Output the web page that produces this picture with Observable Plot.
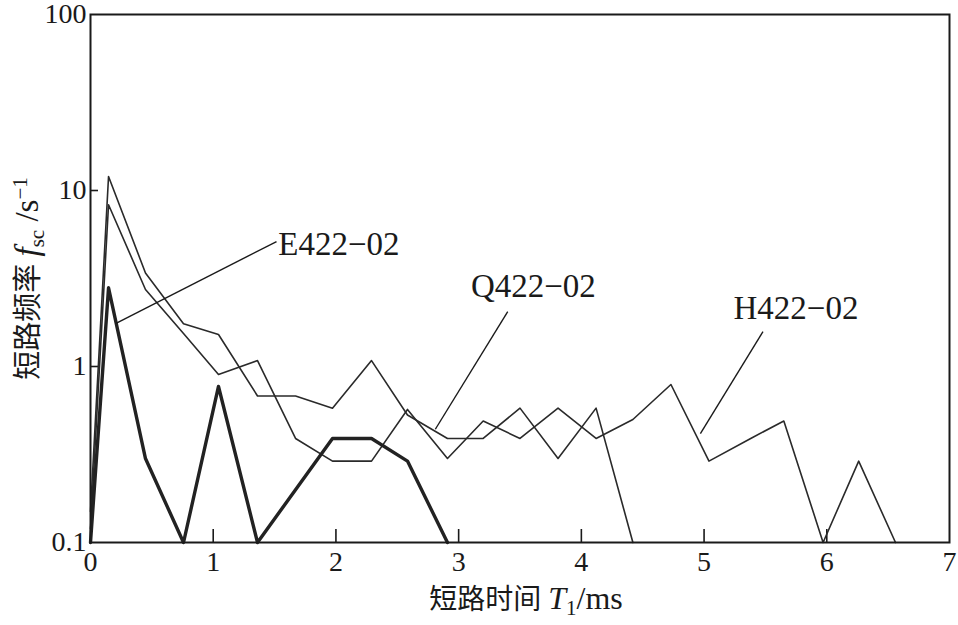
<!DOCTYPE html>
<html><head><meta charset="utf-8">
<script src="https://cdn.jsdelivr.net/npm/d3@7"></script>
<script src="https://cdn.jsdelivr.net/npm/@observablehq/plot@0.6"></script>
<style>body{margin:0;background:#fff} svg{display:block}</style>
</head><body><div id="chart"></div>
<script>
const seriesNames = ["E422−02", "Q422−02", "H422−02"];
const xE = [0, 0.147, 0.448, 0.758, 1.043, 1.361, 1.972, 2.29, 2.583, 2.909];
const yE = [0.1, 2.8, 0.30, 0.1, 0.77, 0.1, 0.39, 0.39, 0.29, 0.1];
const xQ = [0, 0.147, 0.448, 0.758, 1.043, 1.361, 1.671, 1.972, 2.29, 2.583, 2.909, 3.20, 3.50, 3.81, 4.12, 4.42];
const yQ = [0.15, 12.0, 3.4, 1.75, 1.52, 0.68, 0.68, 0.58, 1.08, 0.53, 0.39, 0.39, 0.58, 0.30, 0.58, 0.1];
const xH = [0, 0.147, 0.448, 0.758, 1.043, 1.361, 1.671, 1.972, 2.29, 2.583, 2.909, 3.20, 3.50, 3.81, 4.12, 4.42, 4.73, 5.04, 5.38, 5.65, 5.97, 6.26, 6.56];
const yH = [0.12, 8.3, 2.74, 1.54, 0.90, 1.08, 0.39, 0.29, 0.29, 0.57, 0.30, 0.49, 0.39, 0.58, 0.39, 0.50, 0.79, 0.29, 0.39, 0.49, 0.1, 0.29, 0.1];

// series label anchors and leader lines (data coordinates)
const labelX = [1.53, 3.10, 5.24];
const labelY = [4.93, 2.85, 2.14];
const leaderX1 = [0.204, 2.81, 4.97];
const leaderY1 = [1.75, 0.44, 0.416];
const leaderX2 = [1.516, 3.40, 5.48];
const leaderY2 = [5.13, 2.05, 1.58];

const xTickLabels = [0, 1, 2, 3, 4, 5, 6, 7];
const xInnerTicks = [1, 2, 3, 4, 5, 6];
const yTickLabels = [0.1, 1, 10, 100];
const yInnerTicks = [1, 10];

const toRows = (xs, ys, name) => xs.map((x, i) => ({x, y: ys[i], series: name}));
const rowsE = toRows(xE, yE, seriesNames[0]);
const rowsQ = toRows(xQ, yQ, seriesNames[1]);
const rowsH = toRows(xH, yH, seriesNames[2]);
const labels = seriesNames.map((s, i) => ({s, x: labelX[i], y: labelY[i]}));
const leaders = seriesNames.map((s, i) => ({x1: leaderX1[i], y1: leaderY1[i], x2: leaderX2[i], y2: leaderY2[i]}));

const ink = "#1a1a1a";
const serif = "Liberation Serif, Noto Sans CJK SC, serif";
const W = 958, H = 625, ML = 90, MR = 9, MT = 14, MB = 83;
const plot = Plot.plot({
  width: W, height: H,
  marginLeft: ML, marginRight: MR, marginTop: MT, marginBottom: MB,
  style: {fontFamily: serif, background: "#fff", color: ink},
  x: {domain: [0, 7]},
  y: {type: "log", domain: [0.1, 100]},
  marks: [
    Plot.tickX(xInnerTicks, {x: d => d, insetTop: (H - MT - MB) - 13, stroke: ink, strokeWidth: 1.6}),
    Plot.tickY(yInnerTicks, {y: d => d, insetRight: (W - ML - MR) - 8, stroke: ink, strokeWidth: 1.6}),
    Plot.axisX({ticks: xTickLabels, tickSize: 0, tickPadding: 9, fontSize: 28, label: null, tickFormat: d => String(d)}),
    Plot.axisY({ticks: yTickLabels, tickSize: 0, tickPadding: 4, fontSize: 28, label: null, tickFormat: d => String(d)}),
    Plot.line(rowsH, {x: "x", y: "y", stroke: "#2a2a2a", strokeWidth: 1.6}),
    Plot.line(rowsQ, {x: "x", y: "y", stroke: "#2a2a2a", strokeWidth: 1.6}),
    Plot.line(rowsE, {x: "x", y: "y", stroke: "#222", strokeWidth: 3.4}),
    Plot.link(leaders, {x1: "x1", y1: "y1", x2: "x2", y2: "y2", stroke: ink, strokeWidth: 1.4}),
    Plot.text(labels, {x: "x", y: "y", text: "s", textAnchor: "start", fontSize: 33, fill: ink}),
    Plot.frame({stroke: ink, strokeWidth: 2}),
    Plot.text(["x-title"], {frameAnchor: "bottom", textAnchor: "middle", dx: 6, dy: 66, text: d => d, fontSize: 28, fill: ink}),
    Plot.text(["y-title"], {frameAnchor: "left", textAnchor: "middle", dx: -62, text: d => d, rotate: -90, fontSize: 29, fill: ink})
  ]
});
document.getElementById("chart").appendChild(plot);

// rich axis titles (italic symbols, subscripts, superscript)
const svg = d3.select(plot);
const findText = s => svg.selectAll("text").filter(function() { return this.textContent === s; });
const xt = findText("x-title");
xt.text(null);
xt.append("tspan").text("短路时间 ");
xt.append("tspan").attr("font-style", "italic").attr("font-size", 32).text("T");
xt.append("tspan").attr("font-size", 21).attr("dy", 6).text("1");
xt.append("tspan").attr("font-size", 32).attr("dy", -6).text("/ms");

const yt = findText("y-title");
yt.text(null);
yt.append("tspan").text("短路频率 ");
yt.append("tspan").attr("font-style", "italic").attr("font-size", 33).text("f");
yt.append("tspan").attr("font-size", 21).attr("dy", 6).text("sc");
yt.append("tspan").attr("font-size", 33).attr("dy", -6).text(" /s");
yt.append("tspan").attr("font-size", 21).attr("dy", -11).text("−1");
</script>
</body></html>
